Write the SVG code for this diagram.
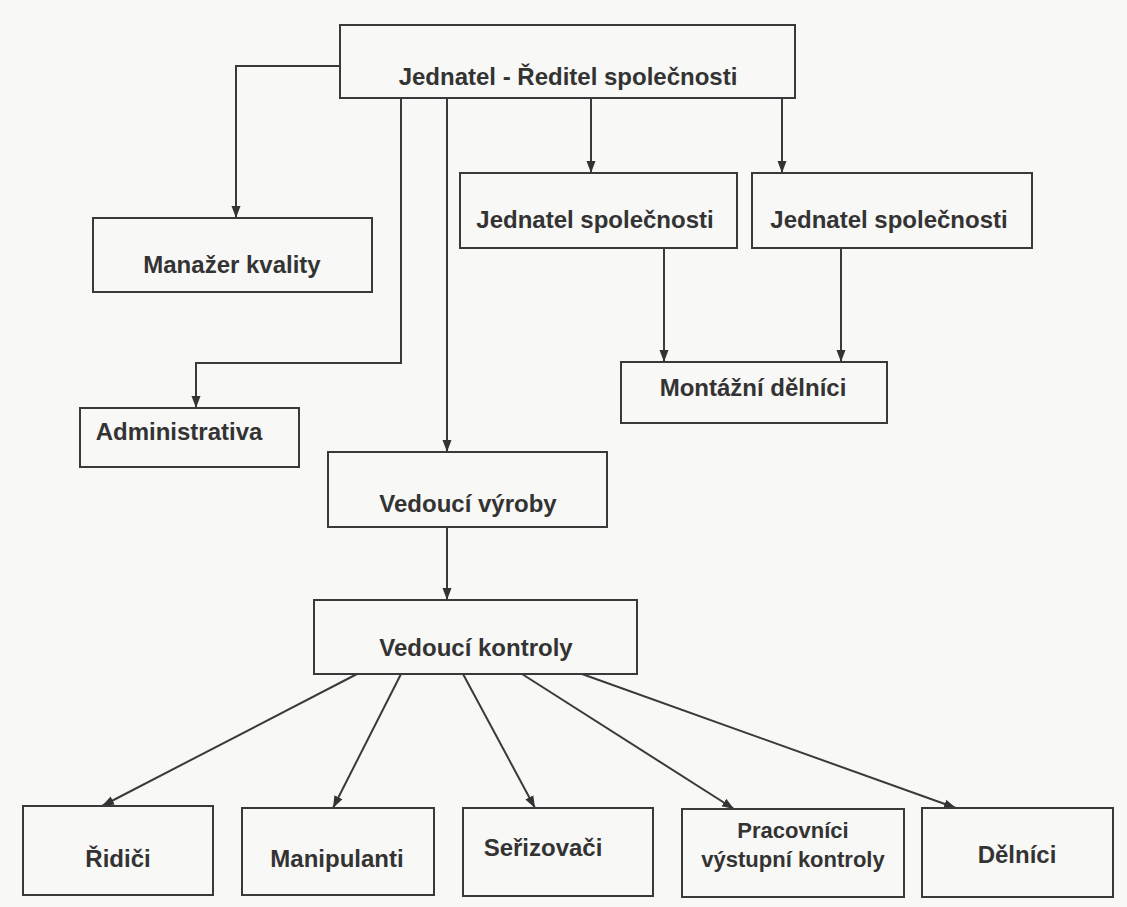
<svg xmlns="http://www.w3.org/2000/svg" width="1127" height="907" viewBox="0 0 1127 907">
<style>
.box{fill:#f8f8f6;stroke:#3a3a3a;stroke-width:2}
.t{font-family:"Liberation Sans",Arial,sans-serif;font-weight:bold;font-size:24px;fill:#333;text-anchor:middle}
.s{font-size:22px}
.c{fill:none;stroke:#3a3a3a;stroke-width:2}
</style>
<defs>
<marker id="a" markerUnits="userSpaceOnUse" markerWidth="12" markerHeight="12" viewBox="0 0 12 12" refX="12" refY="6" orient="auto">
<path d="M0,1.5 L12,6 L0,10.5 Z" fill="#333"/>
</marker>
</defs>
<rect width="1127" height="907" fill="#f8f8f6"/>
<g id="connectors">
<path class="c" d="M340,66 H236 V218" marker-end="url(#a)"/>
<path class="c" d="M401,98 V363 H196 V408" marker-end="url(#a)"/>
<path class="c" d="M447,98 V452" marker-end="url(#a)"/>
<path class="c" d="M591,98 V173" marker-end="url(#a)"/>
<path class="c" d="M782,98 V173" marker-end="url(#a)"/>
<path class="c" d="M664,248 V362" marker-end="url(#a)"/>
<path class="c" d="M841,248 V362" marker-end="url(#a)"/>
<path class="c" d="M447,527 V600" marker-end="url(#a)"/>
<path class="c" d="M357,674 L102,806" marker-end="url(#a)"/>
<path class="c" d="M401,674 L333,808" marker-end="url(#a)"/>
<path class="c" d="M463,674 L535,808" marker-end="url(#a)"/>
<path class="c" d="M522,674 L734,809" marker-end="url(#a)"/>
<path class="c" d="M582,674 L956,808" marker-end="url(#a)"/>
</g>
<g id="reditel"><rect class="box" x="340" y="25" width="455" height="73"/><text class="t" x="568" y="85">Jednatel - Ředitel společnosti</text></g>
<g id="manazer"><rect class="box" x="93" y="218" width="279" height="74"/><text class="t" x="232" y="273">Manažer kvality</text></g>
<g id="jednatel1"><rect class="box" x="460" y="173" width="277" height="75"/><text class="t" x="595" y="228">Jednatel společnosti</text></g>
<g id="jednatel2"><rect class="box" x="752" y="173" width="280" height="75"/><text class="t" x="889" y="228">Jednatel společnosti</text></g>
<g id="montazni"><rect class="box" x="621" y="362" width="266" height="61"/><text class="t" x="753" y="396">Montážní dělníci</text></g>
<g id="administrativa"><rect class="box" x="80" y="408" width="219" height="59"/><text class="t" x="179" y="440">Administrativa</text></g>
<g id="vyroba"><rect class="box" x="328" y="452" width="279" height="75"/><text class="t" x="468" y="512">Vedoucí výroby</text></g>
<g id="kontroly"><rect class="box" x="314" y="600" width="323" height="74"/><text class="t" x="476" y="656">Vedoucí kontroly</text></g>
<g id="ridici"><rect class="box" x="23" y="806" width="190" height="89"/><text class="t" x="118" y="867">Řidiči</text></g>
<g id="manipulanti"><rect class="box" x="242" y="808" width="192" height="87"/><text class="t" x="337" y="867">Manipulanti</text></g>
<g id="serizovaci"><rect class="box" x="463" y="808" width="190" height="88"/><text class="t" x="543" y="856">Seřizovači</text></g>
<g id="pracovnici"><rect class="box" x="682" y="809" width="222" height="88"/><text class="t s" x="793" y="838">Pracovníci</text><text class="t s" x="793" y="867">výstupní kontroly</text></g>
<g id="delnici"><rect class="box" x="922" y="808" width="191" height="89"/><text class="t" x="1017" y="863">Dělníci</text></g>
</svg>
